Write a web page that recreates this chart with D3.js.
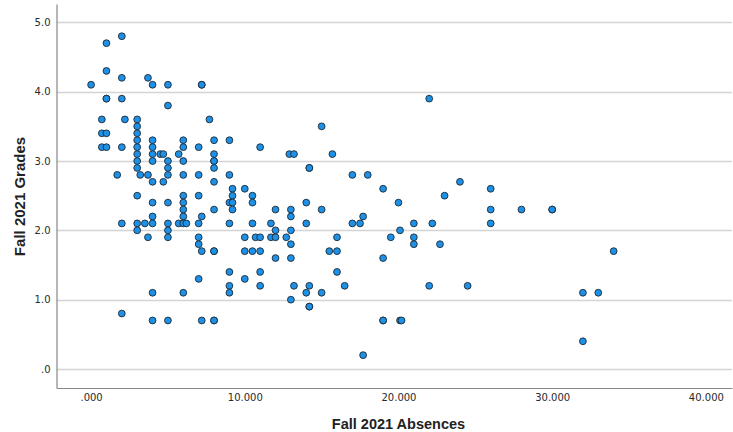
<!DOCTYPE html>
<html>
<head>
<meta charset="utf-8">
<script src="https://cdn.jsdelivr.net/npm/d3@7"></script>
<style>
  body { margin: 0; background: #fff; }
  svg { display: block; }
</style>
</head>
<body>
<script>
// Fall 2021 absences (x) and grades (y), one entry per student, same order
var absences = [
  0, 1, 2, 1, 2, 1, 1, 2, 3.7, 4, 5, 5, 7.2, 7.2, 0.7, 2.2,
  3, 3, 3, 3, 3, 3, 3, 3, 0.7, 1, 0.7, 1, 2, 1.7, 3.2, 3.7,
  4, 4, 4, 4, 4, 4.5, 4.7, 4.7, 5, 5, 5, 5.7, 6, 6, 6, 6,
  7, 7, 7.7, 8, 8, 8, 8, 8, 8, 9, 9, 9.2, 10,
  3, 6, 7, 9.2, 10.5,
  4, 5, 6, 9, 9.2, 10.5,
  6, 8, 9.2,
  4, 6, 7.2,
  2, 3, 3.5, 4, 5, 5.7, 6, 6.2, 7, 9, 10.5,
  3, 5,
  3.7, 5, 7, 10,
  7,
  7.2, 8, 8, 10,
  9, 7, 10, 9, 4, 6, 9,
  2, 4, 5, 7.2, 8, 8,
  11, 12.9, 13.2, 15, 15.7, 14.2, 14.2, 17, 18, 19,
  14, 12, 13, 15, 13, 11.7, 14, 12, 13,
  10.7, 11, 11.7, 12, 12.7, 16, 13,
  10.5, 11, 15.5, 16, 12, 13, 11, 16,
  11, 13.2, 14.2, 16.5, 14, 15, 13, 14.2, 14.2, 17.7,
  22, 24, 23, 20, 17.7, 17, 17.5, 21, 22.2, 20.1, 19.5, 21, 21, 22.7,
  19, 22, 24.5, 19, 19, 20.1, 20.2,
  26, 26, 28, 30, 30, 26, 34, 32, 33, 32
];
var grades = [
  4.1, 4.7, 4.8, 4.3, 4.2, 3.9, 3.9, 3.9, 4.2, 4.1, 4.1, 3.8, 4.1, 4.1, 3.6, 3.6,
  3.6, 3.5, 3.4, 3.3, 3.2, 3.1, 3.0, 2.9, 3.4, 3.4, 3.2, 3.2, 3.2, 2.8, 2.8, 2.8,
  3.3, 3.2, 3.1, 3.0, 2.7, 3.1, 3.1, 2.7, 3.0, 2.9, 2.8, 3.1, 3.3, 3.2, 3.0, 2.8,
  3.2, 2.8, 3.6, 3.3, 3.1, 3.0, 3.0, 2.9, 2.7, 3.3, 2.8, 2.6, 2.6,
  2.5, 2.5, 2.5, 2.5, 2.5,
  2.4, 2.4, 2.4, 2.4, 2.4, 2.4,
  2.3, 2.3, 2.3,
  2.2, 2.2, 2.2,
  2.1, 2.1, 2.1, 2.1, 2.1, 2.1, 2.1, 2.1, 2.1, 2.1, 2.1,
  2.0, 2.0,
  1.9, 1.9, 1.9, 1.9,
  1.8,
  1.7, 1.7, 1.7, 1.7,
  1.4, 1.3, 1.3, 1.2, 1.1, 1.1, 1.1,
  0.8, 0.7, 0.7, 0.7, 0.7, 0.7,
  3.2, 3.1, 3.1, 3.5, 3.1, 2.9, 2.9, 2.8, 2.8, 2.6,
  2.4, 2.3, 2.3, 2.3, 2.2, 2.1, 2.1, 2.0, 2.0,
  1.9, 1.9, 1.9, 1.9, 1.9, 1.9, 1.8,
  1.7, 1.7, 1.7, 1.7, 1.6, 1.6, 1.4, 1.4,
  1.2, 1.2, 1.2, 1.2, 1.1, 1.1, 1.0, 0.9, 0.9, 0.2,
  3.9, 2.7, 2.5, 2.4, 2.2, 2.1, 2.1, 2.1, 2.1, 2.0, 1.9, 1.9, 1.8, 1.8,
  1.6, 1.2, 1.2, 0.7, 0.7, 0.7, 0.7,
  2.6, 2.3, 2.3, 2.3, 2.3, 2.1, 1.7, 1.1, 1.1, 0.4
];
var xTicks = [0, 10, 20, 30, 40];
var yTicks = [0, 1, 2, 3, 4, 5];

var width = 733, height = 432;
var plot = { left: 56.5, right: 732, top: 4, bottom: 388 };

var svg = d3.select("body").append("svg")
  .attr("width", width)
  .attr("height", height);

var xScale = d3.scaleLinear()
  .domain([-2.25, 41.7])
  .range([plot.left, plot.right]);

var yScale = d3.scaleLinear()
  .domain([-0.274, 5.265])
  .range([plot.bottom, plot.top]);

// strip leading zero like ".000" and ".0"
function stripZero(s) { return s.replace(/^0\./, "."); }

// horizontal grid lines
svg.append("g")
  .selectAll("line")
  .data(yTicks)
  .join("line")
  .attr("x1", plot.left)
  .attr("x2", plot.right)
  .attr("y1", function(d) { return Math.round(yScale(d)) + 0.5; })
  .attr("y2", function(d) { return Math.round(yScale(d)) + 0.5; })
  .attr("stroke", "#d4d4d4")
  .attr("stroke-width", 1.3);

var xAxis = d3.axisBottom(xScale)
  .tickValues(xTicks)
  .tickSize(0)
  .tickPadding(6)
  .tickFormat(function(d) { return stripZero(d3.format(".3f")(d)); });

var yAxis = d3.axisLeft(yScale)
  .tickValues(yTicks)
  .tickSize(0)
  .tickPadding(6)
  .tickFormat(function(d) { return stripZero(d3.format(".1f")(d)); });

var gx = svg.append("g")
  .attr("transform", "translate(0," + plot.bottom + ")")
  .call(xAxis);

var gy = svg.append("g")
  .attr("transform", "translate(" + plot.left + ",0)")
  .call(yAxis);

[gx, gy].forEach(function(g) {
  g.select(".domain").attr("stroke", "#888").attr("stroke-width", 1.2);
  g.selectAll("text")
    .attr("fill", "#2a2a2a")
    .style("font-family", "DejaVu Sans, sans-serif")
    .style("font-size", "10px");
});

// points
svg.append("g")
  .selectAll("circle")
  .data(d3.range(absences.length))
  .join("circle")
  .attr("cx", function(i) { return xScale(absences[i]); })
  .attr("cy", function(i) { return yScale(grades[i]); })
  .attr("r", 3.4)
  .attr("fill", "#1e90e6")
  .attr("stroke", "#1c2a36")
  .attr("stroke-width", 0.9);

// axis titles
svg.append("text")
  .attr("x", 398.5)
  .attr("y", 429)
  .attr("text-anchor", "middle")
  .style("font-family", "Liberation Sans, Arial, sans-serif")
  .style("font-weight", "bold")
  .style("font-size", "14.5px")
  .attr("fill", "#222")
  .text("Fall 2021 Absences");

svg.append("text")
  .attr("transform", "translate(24.5,196.5) rotate(-90)")
  .attr("text-anchor", "middle")
  .style("font-family", "Liberation Sans, Arial, sans-serif")
  .style("font-weight", "bold")
  .style("font-size", "15px")
  .attr("fill", "#222")
  .text("Fall 2021 Grades");
</script>
</body>
</html>
